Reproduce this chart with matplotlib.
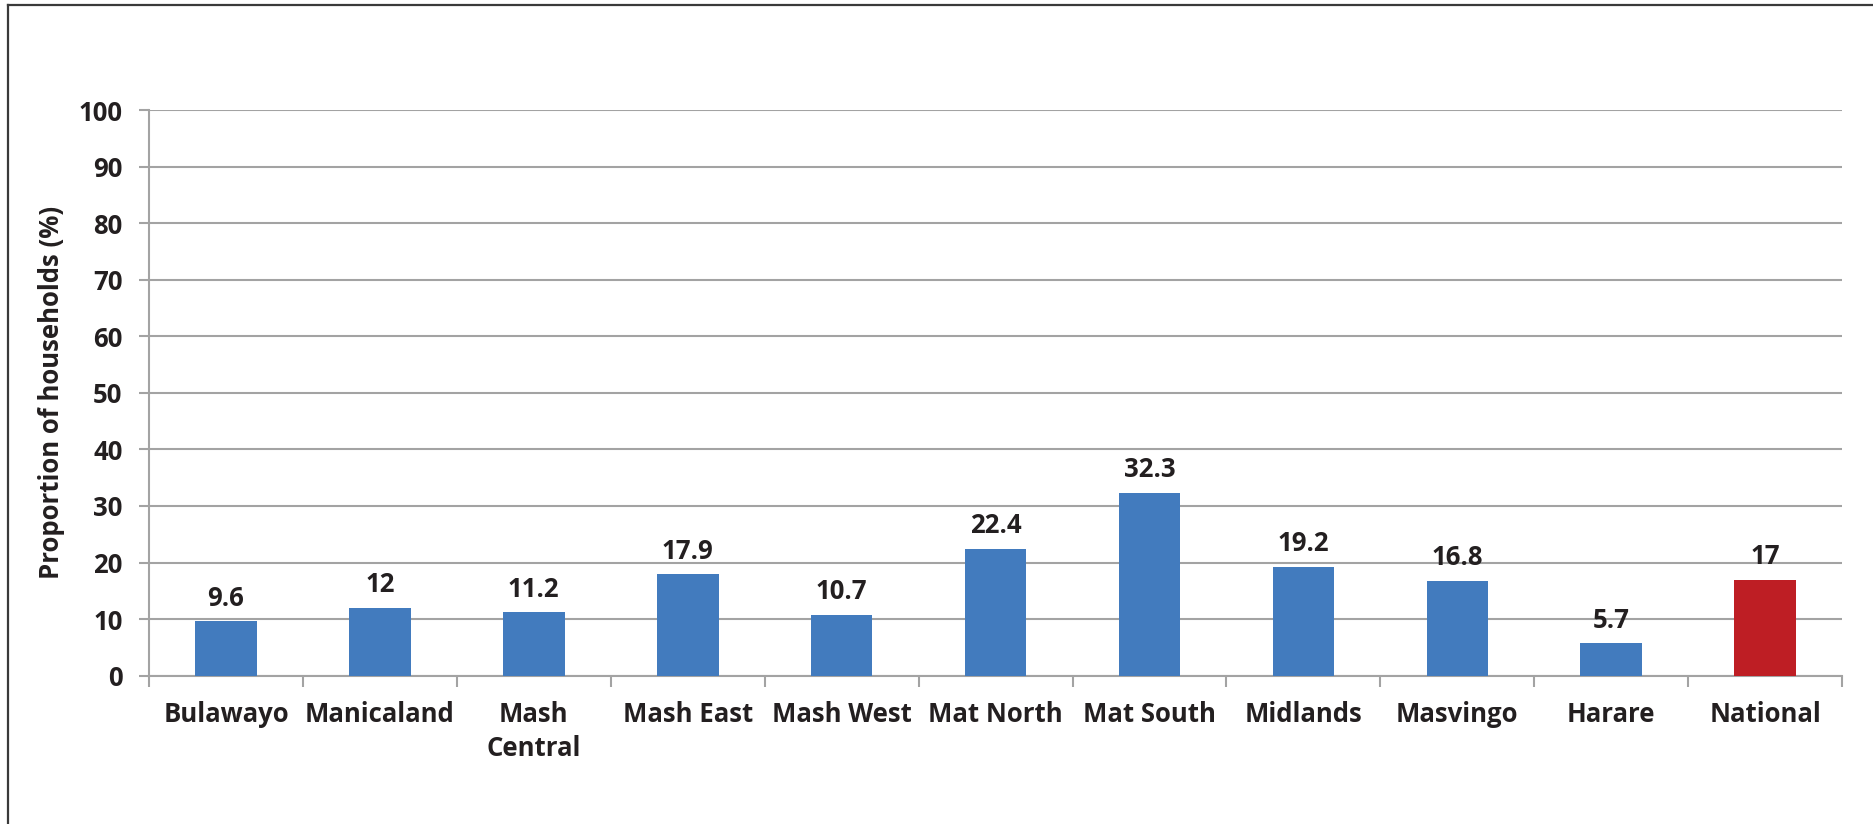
import matplotlib.pyplot as plt
from matplotlib.lines import Line2D
import numpy as np

regions = ['Bulawayo', 'Manicaland', 'Mash\nCentral', 'Mash East', 'Mash West',
           'Mat North', 'Mat South', 'Midlands', 'Masvingo', 'Harare', 'National']
values = [9.6, 12, 11.2, 17.9, 10.7, 22.4, 32.3, 19.2, 16.8, 5.7, 17]
value_labels = ['9.6', '12', '11.2', '17.9', '10.7', '22.4', '32.3', '19.2', '16.8', '5.7', '17']

blue = '#427BBE'
red = '#BE1E24'
grey = '#A3A3A3'
txt = '#231F20'
fs = 18.5

plt.rcParams['font.family'] = ['Open Sans', 'DejaVu Sans']
plt.rcParams['font.weight'] = 'bold'

fig = plt.figure(figsize=(18.74, 8.24), dpi=100)
ax = fig.add_axes([0.0795, 0.180, 0.9035, 0.6865])

x = np.arange(len(regions))
colors = [blue] * (len(regions) - 1) + [red]
bars = ax.bar(x, values, 0.4, color=colors, zorder=3)

for xi, v, lab in zip(x, values, value_labels):
    ax.annotate(lab, (xi, v), xytext=(0, 7), textcoords='offset points',
                ha='center', va='bottom', fontsize=fs, fontweight='bold', color=txt)

ax.set_xlim(-0.5, len(regions) - 0.5)
ax.set_ylim(0, 100)
ax.set_yticks(np.arange(0, 101, 10))
ax.yaxis.grid(True, color=grey, linewidth=1.5, zorder=0)
ax.set_axisbelow(True)

ax.set_xticks(x)
ax.set_xticklabels(regions, fontsize=fs, fontweight='bold', color=txt, linespacing=1.35)
ax.set_xticks(np.arange(-0.5, len(regions), 1), minor=True)
ax.tick_params(axis='x', which='major', length=0, pad=18)
ax.tick_params(axis='x', which='minor', length=8, width=1.5, color=grey, direction='out')
ax.tick_params(axis='y', length=7, width=1.5, color=grey, labelsize=fs, labelcolor=txt, pad=12)
for lbl in ax.get_yticklabels():
    lbl.set_fontweight('bold')

for s in ['top', 'right']:
    ax.spines[s].set_visible(False)
for s in ['left', 'bottom']:
    ax.spines[s].set_color(grey)
    ax.spines[s].set_linewidth(1.5)

ax.set_ylabel('Proportion of households (%)', fontsize=fs, fontweight='bold', color=txt, labelpad=10)

# outer frame (left and top edges)
fig.add_artist(Line2D([8 / 1874, 8 / 1874], [0, 1 - 5 / 824], transform=fig.transFigure, color='#3A3A3A', linewidth=1.6))
fig.add_artist(Line2D([8 / 1874, 1], [1 - 5 / 824, 1 - 5 / 824], transform=fig.transFigure, color='#3A3A3A', linewidth=1.6))

plt.savefig('out.png', dpi=100)
